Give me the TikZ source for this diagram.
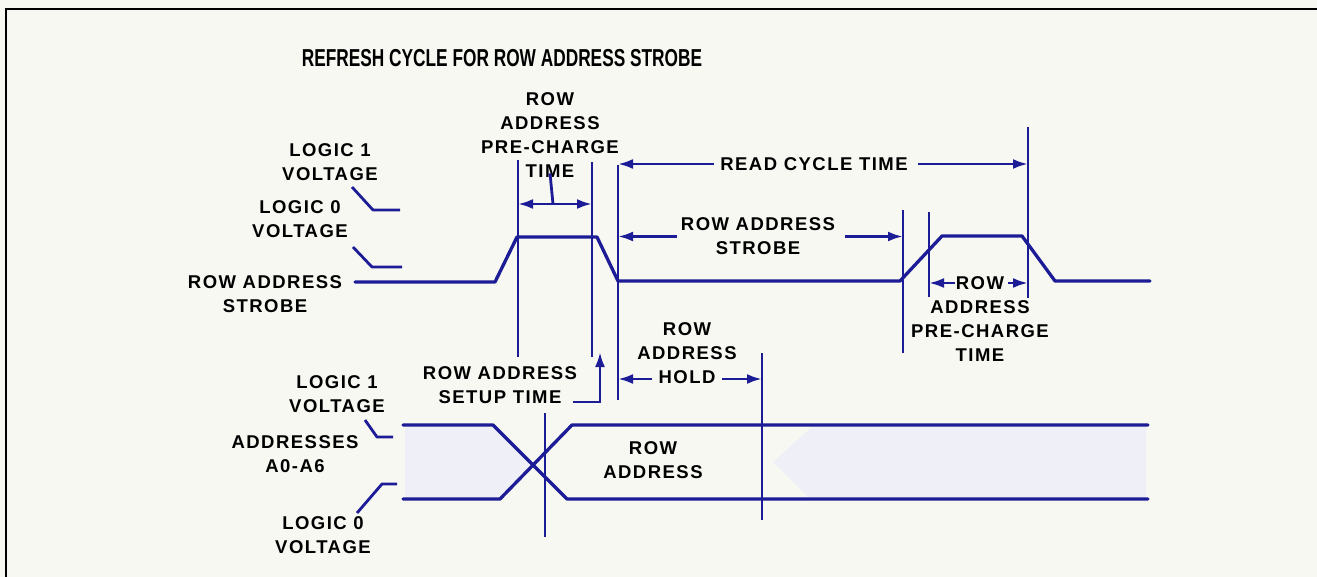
\documentclass[tikz,border=0pt]{standalone}
\usepackage{fontspec}
\setmainfont{Liberation Sans}
\newfontfamily\lblfont[LetterSpace=8]{Liberation Sans}
\newfontfamily\ttlfont[FakeStretch=0.705]{Liberation Sans}
\usetikzlibrary{arrows.meta}
\definecolor{ink}{RGB}{28,28,150}
\definecolor{paper}{RGB}{248,248,243}
\definecolor{lavfill}{RGB}{239,239,248}
\tikzset{
  tp/.tip={Latex[length=15pt,width=10pt]},
  lab/.style={font=\lblfont\bfseries\fontsize{18.5}{23.8}\selectfont, align=center, inner sep=0pt, text=black},
  wave/.style={draw=ink, line width=3.3pt, line join=round, line cap=round},
  vline/.style={draw=ink, line width=2.8pt},
  arr/.style={draw=ink, line width=2.8pt, -tp},
  darr/.style={draw=ink, line width=2.8pt, tp-tp},
  lead/.style={draw=ink, line width=2.8pt, line join=round},
}
\begin{document}
\begin{tikzpicture}[x=1pt,y=-1pt]
\fill[paper] (0,0) rectangle (1317,577);
\useasboundingbox (0,0) rectangle (1317,577);
\draw[black, line width=2.2pt] (6,577) -- (6,9) -- (1317,9);

% title
\node[font=\ttlfont\bfseries\fontsize{24.5}{28}\selectfont, inner sep=0pt] (title) at (502,58) {REFRESH CYCLE FOR ROW ADDRESS STROBE};

% labels
\node[lab] (l1v) at (330,162.5) {LOGIC 1\\VOLTAGE};
\node[lab] (l0v) at (300,219) {LOGIC 0\\VOLTAGE};
\node[lab] (ras) at (265,294.5) {ROW ADDRESS\\STROBE};
\node[lab] (pc1) at (550,135) {ROW\\ADDRESS\\PRE-CHARGE\\TIME};
\node[lab] (rct) at (814,164) {READ CYCLE TIME};
\node[lab] (rasw) at (758,236.5) {ROW ADDRESS\\STROBE};
\node[lab] (pc2) at (980,319) {ROW\\ADDRESS\\PRE-CHARGE\\TIME};
\node[lab] (setup) at (500,385) {ROW ADDRESS\\SETUP TIME};
\node[lab] (hold) at (687,353) {ROW\\ADDRESS\\HOLD};
\node[lab] (l1a) at (337,394) {LOGIC 1\\VOLTAGE};
\node[lab] (addr) at (295,454) {ADDRESSES\\A0-A6};
\node[lab] (l0a) at (323,535) {LOGIC 0\\VOLTAGE};
\node[lab] (rowaddr) at (653,460) {ROW\\ADDRESS};

% vertical timing markers
\coordinate (v1t) at (518,160); \coordinate (v1b) at (518,357);
\coordinate (v2t) at (592,162); \coordinate (v2b) at (592,357);
\coordinate (v3t) at (618,165); \coordinate (v3b) at (618,400);
\coordinate (v4t) at (903,210); \coordinate (v4b) at (903,353);
\coordinate (v5t) at (929,212); \coordinate (v5b) at (929,297);
\coordinate (v6t) at (1028,127); \coordinate (v6b) at (1028,298);
\coordinate (v7t) at (545,413); \coordinate (v7b) at (545,537);
\coordinate (v8t) at (762,353); \coordinate (v8b) at (762,520);

% address waveform shading
\fill[lavfill] (405,427) -- (493,427) -- (532,462) -- (500,497) -- (405,497) -- cycle;
\fill[lavfill] (773,462) -- (812,427) -- (1146,427) -- (1146,497) -- (808,497) -- cycle;

\foreach \a in {1,...,8} {\draw[vline] (v\a t) -- (v\a b);}

% RAS waveform
\coordinate (rasstart) at (355,282);
\draw[wave] (rasstart) -- (495,282) -- (517,237) -- (597,237) -- (618,281)
  -- (900,281) -- (942,236) -- (1022,236) -- (1055,281) -- (1150,281);

% address waveform
\draw[wave] (403,425) -- (493,425) -- (567,499) -- (735,499) -- (808,499) -- (1148,499);
\draw[wave] (403,499) -- (500,499) -- (572,425) -- (735,425) -- (812,425) -- (1148,425);

% leaders
\draw[lead] (352,187) -- (373,210) -- (400,210);
\draw[lead] (353,247) -- (372,267) -- (402,267);
\draw[lead] (365,420) -- (377,437) -- (393,437);
\draw[lead] (357,513) -- (382,484) -- (397,484);

% dimension arrows
\draw[darr] (518,204) -- (592,204);
\draw[vline] ([yshift=4pt]pc1.south) -- (553,204);
\draw[arr] ([xshift=-6pt]rct.west) -- (v3t |- rct.west);
\draw[arr] ([xshift=10pt]rct.east) -- (v6t |- rct.east);
\draw[arr] ([xshift=-4pt]rasw.west) -- (v3t |- rasw.west);
\draw[arr] ([xshift=10pt]rasw.east) -- (v4t |- rasw.east);
\draw[arr] (955,283) -- (929,283);
\draw[arr] (1008,283) -- (1028,283);
\draw[arr] (573,402) -- (600,402) -- (600,352);
\draw[arr] (652,379) -- (618,379);
\draw[arr] (722,379) -- (762,379);
\end{tikzpicture}
\end{document}
